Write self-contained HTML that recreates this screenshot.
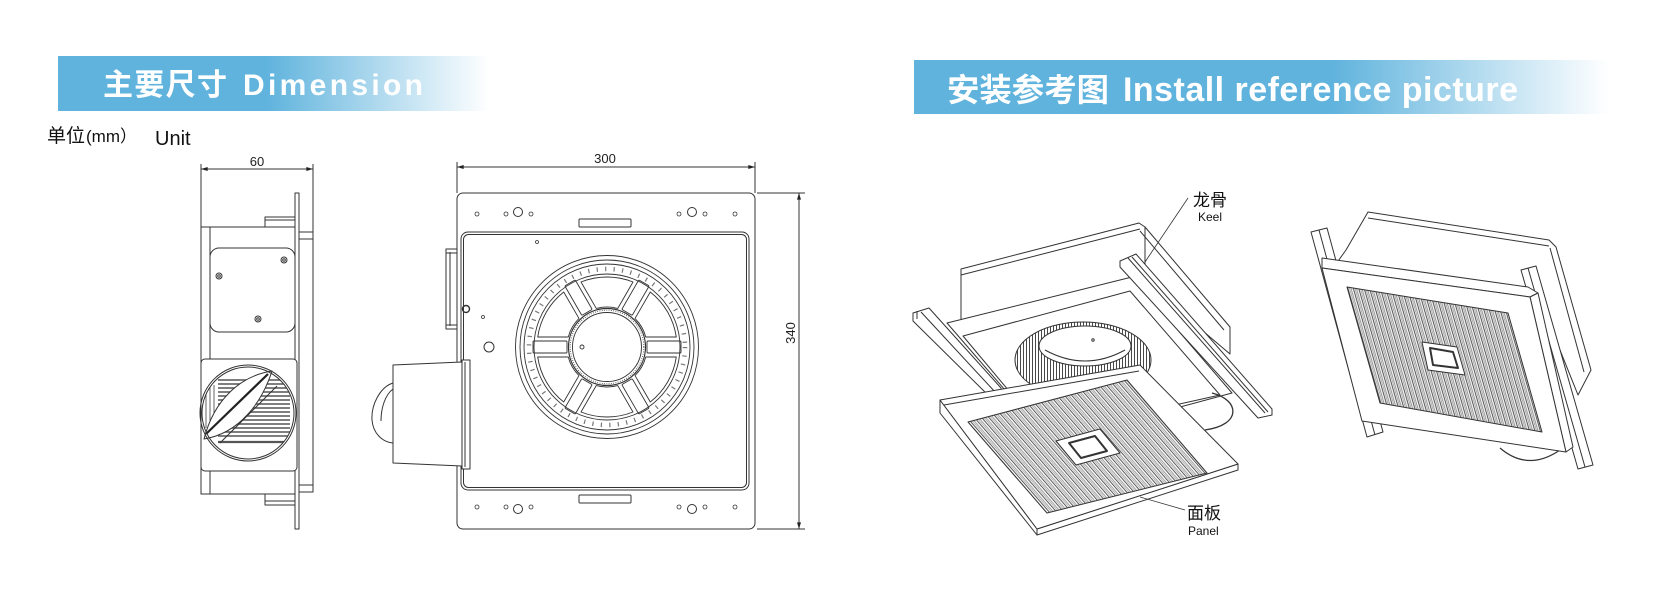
<!DOCTYPE html>
<html><head><meta charset="utf-8"><title>Dimension</title>
<style>
html,body{margin:0;padding:0;background:#fff;width:1669px;height:610px;overflow:hidden}
svg{display:block}
.t{font-family:"Liberation Sans","Noto Sans CJK SC",sans-serif}
</style></head><body>
<svg xmlns="http://www.w3.org/2000/svg" width="1669" height="610" viewBox="0 0 1669 610">
<defs>
 <linearGradient id="gL" x1="0" y1="0" x2="1" y2="0">
  <stop offset="0" stop-color="#5fb3dd"/><stop offset="0.48" stop-color="#5fb3dd"/><stop offset="1" stop-color="#ffffff"/>
 </linearGradient>
 <linearGradient id="gR" x1="0" y1="0" x2="1" y2="0">
  <stop offset="0" stop-color="#5fb3dd"/><stop offset="0.6" stop-color="#5fb3dd"/><stop offset="1" stop-color="#ffffff"/>
 </linearGradient>
 <marker id="ar" viewBox="0 0 10 6" refX="10" refY="3" markerWidth="7" markerHeight="4" orient="auto-start-reverse" markerUnits="userSpaceOnUse"><path d="M0,0L10,3L0,6z" fill="#222"/></marker>
 <pattern id="s1" patternUnits="userSpaceOnUse" width="20" height="5.5" patternTransform="rotate(49)">
  <rect width="20" height="5.5" fill="#fff"/>
  <line x1="0" y1="0.6" x2="20" y2="0.6" stroke="#444" stroke-width="0.9"/>
  <line x1="0" y1="2.9" x2="20" y2="2.9" stroke="#999" stroke-width="1"/>
  <line x1="0" y1="4.4" x2="20" y2="4.4" stroke="#777" stroke-width="0.5"/>
 </pattern>
 <pattern id="s2" patternUnits="userSpaceOnUse" width="20" height="5.2" patternTransform="rotate(74)">
  <rect width="20" height="5.2" fill="#fff"/>
  <line x1="0" y1="0.6" x2="20" y2="0.6" stroke="#444" stroke-width="0.9"/>
  <line x1="0" y1="2.8" x2="20" y2="2.8" stroke="#999" stroke-width="1"/>
  <line x1="0" y1="4.2" x2="20" y2="4.2" stroke="#777" stroke-width="0.5"/>
 </pattern>
 <pattern id="vl" patternUnits="userSpaceOnUse" width="3" height="10">
  <rect width="3" height="10" fill="#fff"/><line x1="0.5" y1="0" x2="0.5" y2="10" stroke="#333" stroke-width="0.9"/>
 </pattern>
 <clipPath id="cd"><circle cx="248" cy="413" r="46"/></clipPath>
</defs>

<!-- headers -->
<rect x="58" y="56" width="432" height="55" fill="url(#gL)"/>
<text class="t" x="103" y="95" font-size="30" font-weight="bold" fill="#fff" textLength="124" lengthAdjust="spacing">主要尺寸</text>
<text class="t" x="243" y="95" font-size="30" font-weight="bold" fill="#fff" textLength="180" lengthAdjust="spacing">Dimension</text>

<rect x="914" y="60" width="695" height="54" fill="url(#gR)"/>
<text class="t" x="947" y="101" font-size="32" font-weight="bold" fill="#fff" textLength="162" lengthAdjust="spacingAndGlyphs">安装参考图</text>
<text class="t" x="1123" y="101" font-size="34" font-weight="bold" fill="#fff" textLength="395" lengthAdjust="spacing">Install reference picture</text>

<text class="t" x="47" y="142" font-size="19" fill="#111">单位</text>
<text class="t" x="86" y="142" font-size="17" fill="#111">(mm）</text>
<text class="t" x="155" y="145" font-size="20" fill="#111">Unit</text>

<g stroke="#333" stroke-width="1" fill="none" stroke-linejoin="round">
<!-- ============ SIDE VIEW ============ -->
<line x1="201" y1="169" x2="313" y2="169" marker-start="url(#ar)" marker-end="url(#ar)"/>
<line x1="201" y1="164" x2="201" y2="227"/>
<line x1="313" y1="164" x2="313" y2="232"/>
<rect x="295" y="193" width="4" height="336" fill="#fff"/>
<rect x="201" y="227" width="94" height="267" fill="#fff"/>
<line x1="210" y1="227" x2="210" y2="494"/>
<rect x="265" y="217" width="30" height="10" fill="#fff"/>
<line x1="265" y1="220" x2="295" y2="220"/>
<rect x="265" y="494" width="30" height="11" fill="#fff"/>
<line x1="265" y1="501" x2="295" y2="501"/>
<rect x="299" y="232" width="14" height="260" fill="#fff"/>
<line x1="299" y1="239" x2="313" y2="239"/>
<line x1="299" y1="485" x2="313" y2="485"/>
<rect x="210" y="248" width="85" height="84" rx="9" fill="#fff"/>
<circle cx="219" cy="276" r="3"/><circle cx="219" cy="276" r="1.3"/>
<circle cx="284" cy="260" r="3"/><circle cx="284" cy="260" r="1.3"/>
<circle cx="258" cy="319" r="3"/><circle cx="258" cy="319" r="1.3"/>
<rect x="201" y="359" width="96" height="112" rx="4" fill="#fff"/>
<g clip-path="url(#cd)" stroke="#555" stroke-width="1.4">
 <line x1="218" y1="380" x2="290" y2="380"/><line x1="218" y1="384" x2="290" y2="384"/>
 <line x1="218" y1="388" x2="290" y2="388"/><line x1="218" y1="392" x2="290" y2="392"/>
 <line x1="218" y1="396" x2="290" y2="396"/><line x1="218" y1="400" x2="290" y2="400"/>
 <line x1="218" y1="404" x2="290" y2="404"/><line x1="218" y1="408" x2="290" y2="408"/>
 <line x1="218" y1="412" x2="290" y2="412"/><line x1="218" y1="416" x2="290" y2="416"/>
 <line x1="218" y1="420" x2="290" y2="420"/><line x1="218" y1="424" x2="290" y2="424"/>
 <line x1="218" y1="428" x2="290" y2="428"/><line x1="218" y1="432" x2="290" y2="432"/>
 <line x1="218" y1="436" x2="290" y2="436"/><line x1="218" y1="442" x2="290" y2="442" stroke-width="2.2"/>
 <line x1="206" y1="385" x2="206" y2="428" stroke-width="0.9"/>
 <line x1="210" y1="385" x2="210" y2="428" stroke-width="0.9"/>
 <line x1="214" y1="385" x2="214" y2="428" stroke-width="0.9"/>
</g>
<path d="M204,439 C214,400 240,376 272,371 C262,402 240,433 204,439Z" fill="#fff"/>
<line x1="206" y1="434" x2="268" y2="374" stroke-width="2.2" stroke="#222"/>
<line x1="220" y1="443" x2="277" y2="386"/>
<ellipse cx="248" cy="413" rx="48" ry="48"/>
<ellipse cx="248" cy="413" rx="46" ry="46"/>

<!-- ============ FRONT VIEW ============ -->
<line x1="457" y1="167" x2="755" y2="167" marker-start="url(#ar)" marker-end="url(#ar)"/>
<line x1="457" y1="162" x2="457" y2="193"/>
<line x1="755" y1="162" x2="755" y2="193"/>
<line x1="799" y1="193" x2="799" y2="529" marker-start="url(#ar)" marker-end="url(#ar)"/>
<line x1="757" y1="193" x2="805" y2="193"/>
<line x1="757" y1="529" x2="805" y2="529"/>
<rect x="446" y="249" width="11" height="80" fill="#fff"/>
<line x1="450" y1="252" x2="450" y2="326"/>
<line x1="446" y1="253" x2="457" y2="253"/><line x1="446" y1="325" x2="457" y2="325"/>
<rect x="457" y="193" width="298" height="336" rx="6" fill="#fff"/>
<rect x="461" y="232" width="288" height="258" rx="7"/>
<rect x="463.5" y="234.5" width="283" height="253" rx="5"/>
<rect x="579" y="219" width="52" height="8" rx="1"/>
<rect x="579" y="495" width="52" height="8" rx="1"/>
<g stroke-width="0.8">
 <circle cx="477" cy="214" r="2"/><circle cx="506" cy="214" r="2"/><circle cx="531" cy="214" r="2"/>
 <circle cx="679" cy="214" r="2"/><circle cx="705" cy="214" r="2"/><circle cx="735" cy="214" r="2"/>
 <circle cx="477" cy="507" r="2"/><circle cx="506" cy="507" r="2"/><circle cx="531" cy="507" r="2"/>
 <circle cx="679" cy="507" r="2"/><circle cx="705" cy="507" r="2"/><circle cx="735" cy="507" r="2"/>
 <circle cx="537" cy="242" r="1.5"/><circle cx="483" cy="317" r="1.5"/>
</g>
<circle cx="518" cy="212" r="4.5"/><circle cx="692" cy="212" r="4.5"/>
<circle cx="518" cy="509" r="4.5"/><circle cx="692" cy="509" r="4.5"/>
<circle cx="466" cy="309" r="3.5" stroke-width="1.4"/>
<circle cx="489" cy="347" r="5"/>
<!-- duct -->
<path d="M393,383 C380,387 371,405 372,420 C373,433 382,442 393,443" fill="#fff"/>
<path d="M393,389 C385,395 381,408 381,421"/>
<polygon points="393,365 462,362 462,466 393,463" fill="#fff"/>
<rect x="462" y="360" width="8" height="109" fill="#fff"/>
<line x1="465" y1="362" x2="465" y2="467"/>
<!-- fan -->
<g transform="translate(607,347)" stroke-width="0.9">
 <circle r="91.5"/><circle r="87"/><circle r="83"/>
 <circle r="78" stroke-width="4.5" stroke="#777" stroke-dasharray="1.2 7.3"/>
 <circle r="73"/>
 <g><rect x="40" y="-6" width="34" height="12" rx="1"/><path d="M38.73,10 L69.28,10 A70,70 0 0 1 43.3,55 L28.02,28.54 A40,40 0 0 0 38.73,10Z"/></g>
 <g transform="rotate(60)"><rect x="40" y="-6" width="34" height="12" rx="1"/><path d="M38.73,10 L69.28,10 A70,70 0 0 1 43.3,55 L28.02,28.54 A40,40 0 0 0 38.73,10Z"/></g>
 <g transform="rotate(120)"><rect x="40" y="-6" width="34" height="12" rx="1"/><path d="M38.73,10 L69.28,10 A70,70 0 0 1 43.3,55 L28.02,28.54 A40,40 0 0 0 38.73,10Z"/></g>
 <g transform="rotate(180)"><rect x="40" y="-6" width="34" height="12" rx="1"/><path d="M38.73,10 L69.28,10 A70,70 0 0 1 43.3,55 L28.02,28.54 A40,40 0 0 0 38.73,10Z"/></g>
 <g transform="rotate(240)"><rect x="40" y="-6" width="34" height="12" rx="1"/><path d="M38.73,10 L69.28,10 A70,70 0 0 1 43.3,55 L28.02,28.54 A40,40 0 0 0 38.73,10Z"/></g>
 <g transform="rotate(300)"><rect x="40" y="-6" width="34" height="12" rx="1"/><path d="M38.73,10 L69.28,10 A70,70 0 0 1 43.3,55 L28.02,28.54 A40,40 0 0 0 38.73,10Z"/></g>
 <circle r="38.5" fill="#fff" stroke-width="1.2"/>
 <circle r="36.8" stroke-dasharray="0.8 1.5"/>
 <circle r="34.5"/>
 <circle cx="-25" cy="0" r="2"/>
</g>

<!-- ============ PICTURE 1 ============ -->
<polygon points="961,269 1139,223 1145,227 1145,282 961,329" fill="#fff"/>
<line x1="961" y1="275" x2="1140" y2="229"/>
<polygon points="1145,227 1230,327 1230,354 1145,282" fill="#fff"/>
<line x1="1140" y1="231" x2="1224" y2="330"/>
<polygon points="947,323 1132,277 1232,393 1050,442" fill="#fff"/>
<polygon points="963,336 1130,291 1220,395 1045,434" fill="#fff"/>
<ellipse cx="1083" cy="360" rx="68" ry="38" fill="url(#vl)"/>
<ellipse cx="1085" cy="346" rx="46" ry="20" fill="#fff"/>
<path d="M1045,350 Q1085,372 1125,350"/>
<circle cx="1093" cy="340" r="1.2"/>
<path d="M1212,393 C1240,400 1242,425 1205,430" stroke-width="1.3"/>
<!-- keels -->
<polygon points="913,313 929,308 1001,388 1001,396 990,397 913,321" fill="#fff"/>
<line x1="921" y1="312" x2="996" y2="393"/>
<line x1="917" y1="311" x2="917" y2="319"/>
<polygon points="1120,261 1136,254 1272,409 1272,415 1258,418 1120,267" fill="#fff"/>
<line x1="1128" y1="258" x2="1265" y2="413"/>
<line x1="1132" y1="257" x2="1268" y2="412"/>
<!-- panel -->
<polygon points="940,400 1037,529 1037,535 940,413" fill="#fff"/>
<polygon points="1037,529 1238,464 1238,470 1037,535" fill="#fff"/>
<polygon points="940,400 1140,365 1238,464 1037,529" fill="#fff"/>
<line x1="944" y1="405" x2="1139" y2="371"/>
<polygon points="968,422 1127,380 1207,473 1047,513" fill="url(#s1)"/>
<polygon points="1056,441 1100,429 1120,453 1076,465" fill="#fff"/>
<polygon points="1069,443 1095,436 1107,451 1081,458" fill="#fff" stroke-width="2"/>
<!-- labels -->
<line x1="1188" y1="198" x2="1145" y2="262" stroke-width="0.8"/>
<line x1="1140" y1="497" x2="1185" y2="510" stroke-width="0.8"/>

<!-- ============ PICTURE 2 ============ -->
<polygon points="1368,212 1549,240 1556,247 1591,370 1578,395 1540,300 1336,264 1346,250" fill="#fff"/>
<line x1="1368" y1="218" x2="1549" y2="246"/>
<line x1="1550" y1="248" x2="1584" y2="372"/>
<path d="M1500,448 Q1528,472 1560,450" stroke-width="1.2"/>
<polygon points="1311,232 1327,228 1383,432 1367,437" fill="#fff"/>
<line x1="1319" y1="230" x2="1375" y2="435"/>
<polygon points="1521,270 1536,266 1593,465 1578,469" fill="#fff"/>
<line x1="1528" y1="268" x2="1585" y2="467"/>
<polygon points="1322,268 1322,258 1528,287 1538,293 1530,297" fill="#fff"/>
<polygon points="1530,297 1538,293 1573,447 1566,452" fill="#fff"/>
<polygon points="1322,268 1530,297 1566,452 1362,421" fill="#fff"/>
<polygon points="1347,287 1508,313 1542,432 1380,403" fill="url(#s2)"/>
<polygon points="1422,342 1457,347 1465,375 1428,370" fill="#fff"/>
<polygon points="1430,348 1453,352 1458,368 1433,365" fill="#fff" stroke-width="2"/>
</g>

<!-- dimension texts -->
<text class="t" x="257" y="166" font-size="13" fill="#222" text-anchor="middle">60</text>
<text class="t" x="605" y="163" font-size="13" fill="#222" text-anchor="middle">300</text>
<text class="t" transform="translate(795,333) rotate(-90)" font-size="13" fill="#222" text-anchor="middle">340</text>

<text class="t" x="1193" y="206" font-size="17" fill="#111">龙骨</text>
<text class="t" x="1198" y="221" font-size="12" fill="#111">Keel</text>
<text class="t" x="1187" y="519" font-size="17" fill="#111">面板</text>
<text class="t" x="1188" y="535" font-size="12" fill="#111">Panel</text>
</svg>
</body></html>
